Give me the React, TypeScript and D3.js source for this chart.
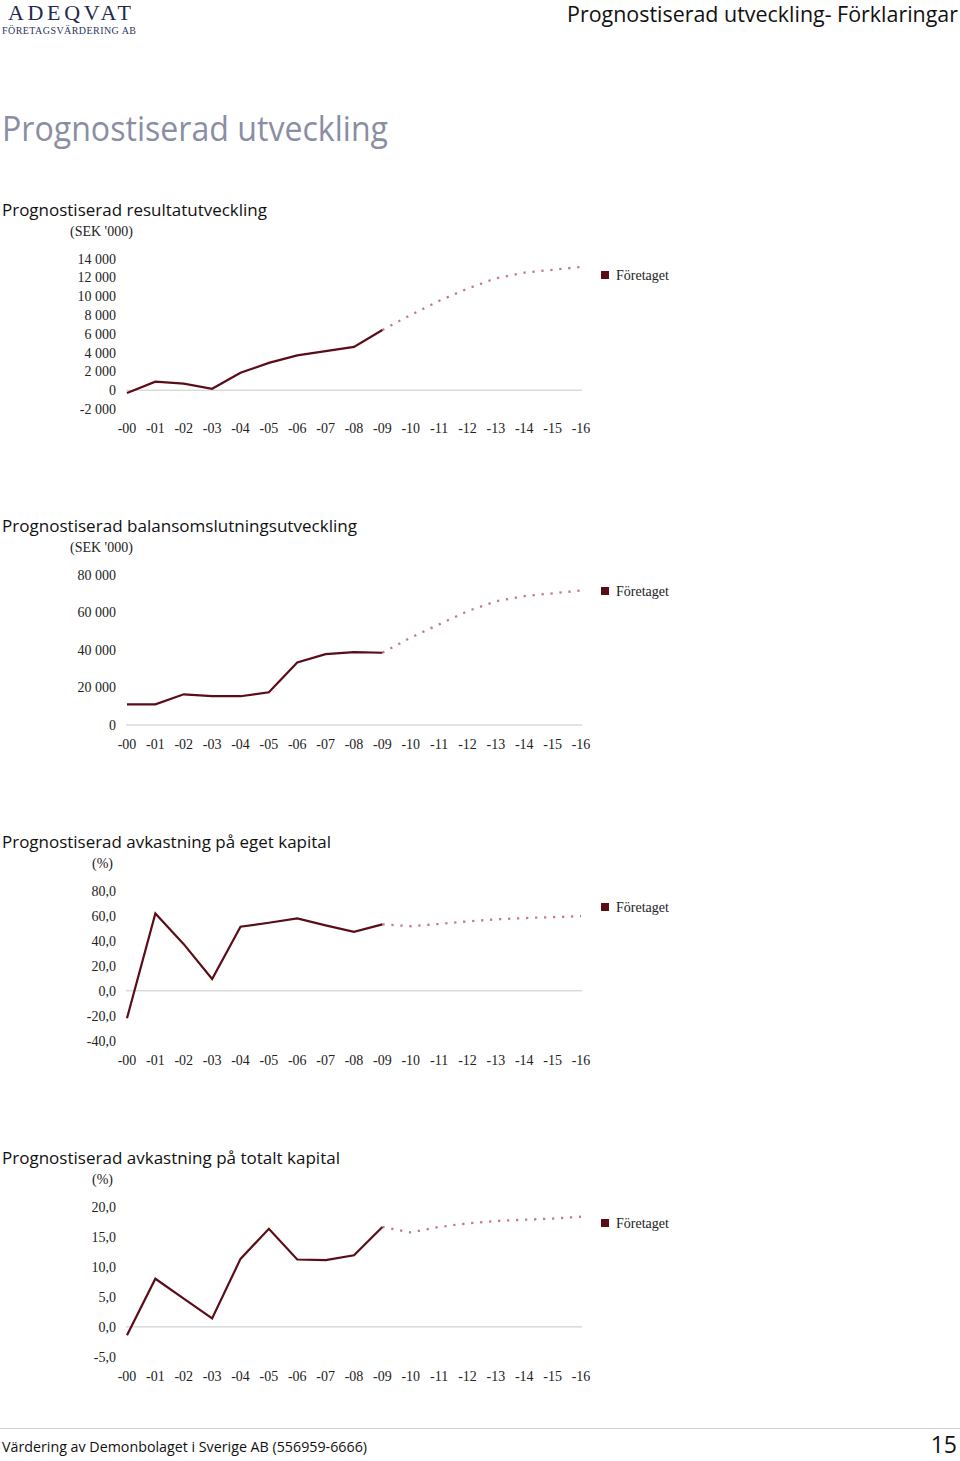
import React from 'react';
import * as d3 from 'd3';

const years = ['-00', '-01', '-02', '-03', '-04', '-05', '-06', '-07', '-08', '-09', '-10', '-11', '-12', '-13', '-14', '-15', '-16'];

const resultActual = [-300, 900, 700, 150, 1850, 2900, 3700, 4150, 4600, 6400];
const resultForecast = [8000, 9500, 10800, 11900, 12500, 12800, 13100];
const resultTicks = [-2000, 0, 2000, 4000, 6000, 8000, 10000, 12000, 14000];

const balansActual = [11000, 11000, 16300, 15300, 15300, 17400, 33200, 37700, 38700, 38400];
const balansForecast = [46500, 53500, 60500, 65800, 68500, 70000, 71500];
const balansTicks = [0, 20000, 40000, 60000, 80000];

const egetActual = [-21.8, 61.6, 37.2, 9.4, 51.1, 54.3, 57.7, 52.2, 47.0, 53.0];
const egetForecast = [51.5, 53.3, 55.4, 57.0, 58.0, 58.8, 59.5];
const egetTicks = [-40, -20, 0, 20, 40, 60, 80];

const totaltActual = [-1.4, 8.0, 4.7, 1.4, 11.3, 16.3, 11.2, 11.1, 11.9, 16.6];
const totaltForecast = [15.7, 16.6, 17.2, 17.6, 17.8, 18.0, 18.3];
const totaltTicks = [-5, 0, 5, 10, 15, 20];

const SOLID = '#5a0d17';
const DOTTED = '#c47a8a';
const SERIF = '"Liberation Serif", "Times New Roman", serif';
const SANS = '"Open Sans", "Noto Sans", sans-serif';

const fmtThousands = (v: number) => {
  const s = d3.format(',')(Math.abs(v)).replace(/,/g, ' ');
  return (v < 0 ? '-' : '') + s;
};
const fmtPct = (v: number) => {
  const s = d3.format('.1f')(Math.abs(v)).replace('.', ',');
  return (v < 0 ? '-' : '') + s;
};

type ChartProps = {
  dy: number;
  title: string;
  titleLen: number;
  unit: string;
  unitX: number;
  ticks: number[];
  fmt: (v: number) => string;
  actual: number[];
  forecast: number[];
};

function Chart({ dy, title, titleLen, unit, unitX, ticks, fmt, actual, forecast }: ChartProps) {
  const x = d3.scalePoint<string>().domain(years).range([127, 581]);
  const y = d3.scaleLinear().domain([ticks[0], ticks[ticks.length - 1]]).range([409 + dy, 258.5 + dy]);
  const line = d3.line<[string, number]>().x(d => x(d[0]) as number).y(d => y(d[1]));
  const actualPts: [string, number][] = actual.map((v, i) => [years[i], v]);
  const fcPts: [string, number][] = [[years[actual.length - 1], actual[actual.length - 1]], ...forecast.map((v, i) => [years[actual.length + i], v] as [string, number])];
  return (
    <g>
      <text x={2} y={216 + dy} fontFamily={SANS} fontSize={17} fill="#111" textLength={titleLen} lengthAdjust="spacingAndGlyphs">{title}</text>
      <text x={unitX} y={236 + dy} fontFamily={SERIF} fontSize={14} fill="#222">{unit}</text>
      {ticks.map(t => (
        <text key={t} x={116} y={y(t) + 5} textAnchor="end" fontFamily={SERIF} fontSize={14} fill="#222">{fmt(t)}</text>
      ))}
      <line x1={126} x2={582} y1={y(0)} y2={y(0)} stroke="#c8c8c8" strokeWidth={1} />
      {years.map(yr => (
        <text key={yr} x={x(yr)} y={433 + dy} textAnchor="middle" fontFamily={SERIF} fontSize={14} fill="#222">{yr}</text>
      ))}
      <path d={line(fcPts) || ''} fill="none" stroke={DOTTED} strokeWidth={2.3} strokeDasharray="2.3 6.7" />
      <path d={line(actualPts) || ''} fill="none" stroke={SOLID} strokeWidth={2.2} strokeLinejoin="miter" />
      <rect x={601} y={271 + dy} width={8} height={8} fill={SOLID} />
      <text x={616} y={280 + dy} fontFamily={SERIF} fontSize={14} fill="#222">Företaget</text>
    </g>
  );
}

export default function App() {
  return (
    <svg width={960} height={1461} style={{ position: 'absolute', left: 0, top: 0, background: '#fff' }}>
      <rect x={0} y={0} width={960} height={1461} fill="#fff" />
      <text x={8} y={20} fontFamily={SERIF} fontSize={22} fill="#1e2a4e" textLength={123} lengthAdjust="spacing">ADEQVAT</text>
      <text x={2} y={34} fontFamily={SERIF} fontSize={10} fill="#2a3560" textLength={134} lengthAdjust="spacing">FÖRETAGSVÄRDERING AB</text>
      <text x={958} y={22} textAnchor="end" fontFamily={SANS} fontSize={21} fill="#111" textLength={391} lengthAdjust="spacingAndGlyphs">Prognostiserad utveckling- Förklaringar</text>
      <text x={2} y={141} fontFamily={SANS} fontSize={35} fill="#8a8ea4" textLength={386} lengthAdjust="spacingAndGlyphs">Prognostiserad utveckling</text>

      <Chart dy={0} title="Prognostiserad resultatutveckling" titleLen={265} unit="(SEK '000)" unitX={70} ticks={resultTicks} fmt={fmtThousands} actual={resultActual} forecast={resultForecast} />
      <Chart dy={316} title="Prognostiserad balansomslutningsutveckling" titleLen={355} unit="(SEK '000)" unitX={70} ticks={balansTicks} fmt={fmtThousands} actual={balansActual} forecast={balansForecast} />
      <Chart dy={632} title="Prognostiserad avkastning på eget kapital" titleLen={329} unit="(%)" unitX={92} ticks={egetTicks} fmt={fmtPct} actual={egetActual} forecast={egetForecast} />
      <Chart dy={948} title="Prognostiserad avkastning på totalt kapital" titleLen={338} unit="(%)" unitX={92} ticks={totaltTicks} fmt={fmtPct} actual={totaltActual} forecast={totaltForecast} />

      <line x1={0} x2={960} y1={1428.5} y2={1428.5} stroke="#cfcfcf" strokeWidth={1} />
      <text x={2} y={1452} fontFamily={SANS} fontSize={15} fill="#111" textLength={365} lengthAdjust="spacingAndGlyphs">Värdering av Demonbolaget i Sverige AB (556959-6666)</text>
      <text x={957} y={1453} textAnchor="end" fontFamily={SANS} fontSize={23} fill="#111">15</text>
    </svg>
  );
}
